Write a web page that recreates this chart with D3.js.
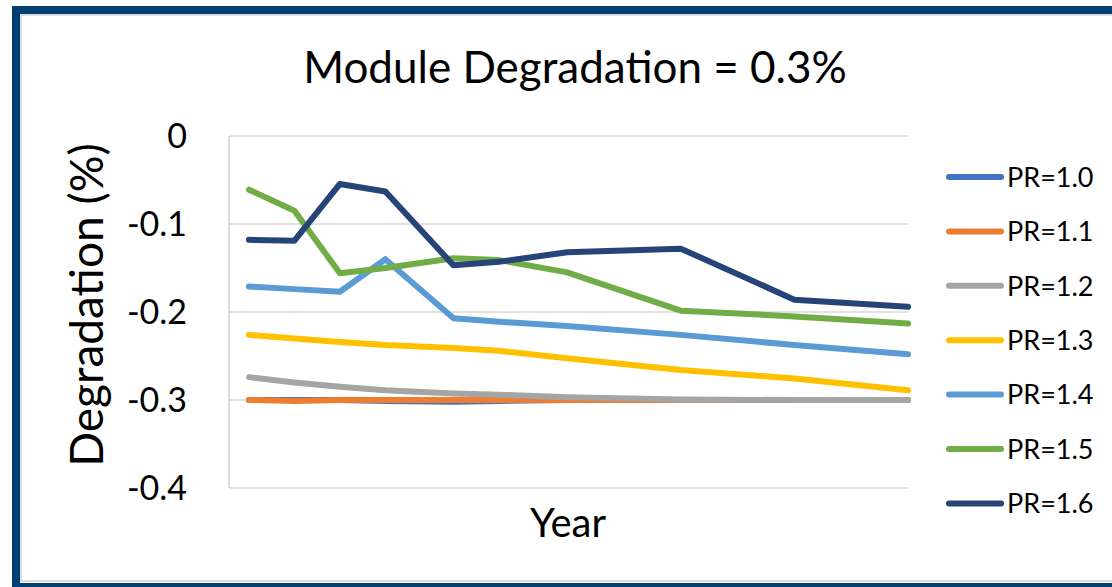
<!DOCTYPE html>
<meta charset="utf-8">
<html>
<head>
<script src="https://d3js.org/d3.v7.min.js"></script>
<style>
  body { margin: 0; background: #fff; }
  text { font-family: Lato, "Open Sans", sans-serif; fill: #000; }
</style>
</head>
<body>
<div class="chart"></div>
<script>
// data
var years = [1, 3, 5, 7, 10, 12, 15, 20, 25, 30];
var seriesNames = ["PR=1.0", "PR=1.1", "PR=1.2", "PR=1.3", "PR=1.4", "PR=1.5", "PR=1.6"];
var pr10 = [-0.300, -0.300, -0.300, -0.301, -0.302, -0.301, -0.300, -0.300, -0.300, -0.300];
var pr11 = [-0.300, -0.301, -0.300, -0.300, -0.300, -0.300, -0.300, -0.300, -0.300, -0.300];
var pr12 = [-0.274, -0.280, -0.285, -0.289, -0.2925, -0.294, -0.297, -0.2995, -0.300, -0.300];
var pr13 = [-0.226, -0.230, -0.234, -0.2375, -0.241, -0.244, -0.2525, -0.266, -0.2755, -0.289];
var pr14 = [-0.171, -0.174, -0.177, -0.140, -0.207, -0.211, -0.216, -0.226, -0.2375, -0.248];
var pr15 = [-0.061, -0.085, -0.156, -0.150, -0.139, -0.141, -0.155, -0.1985, -0.205, -0.213];
var pr16 = [-0.118, -0.119, -0.0545, -0.063, -0.147, -0.143, -0.132, -0.128, -0.186, -0.194];
var allSeries = [pr10, pr11, pr12, pr13, pr14, pr15, pr16];
var colors = ["#4472C4", "#ED7D31", "#A5A5A5", "#FFC000", "#5B9BD5", "#70AD47", "#264478"];
var yTicks = [0, -0.1, -0.2, -0.3, -0.4];
var yTickLabels = ["0", "-0.1", "-0.2", "-0.3", "-0.4"];

var width = 1112, height = 587;
var plotLeft = 229, plotRight = 908, plotTop = 136, plotBottom = 488;

var svg = d3.select(".chart").append("svg")
    .attr("width", width)
    .attr("height", height);

// frame
svg.append("rect")
    .attr("x", 21).attr("y", 15)
    .attr("width", 1100).attr("height", 566)
    .style("fill", "none")
    .style("stroke", "#d0d4d8")
    .style("stroke-width", 1.5);
svg.append("rect")
    .attr("x", 16).attr("y", 10)
    .attr("width", 1110).attr("height", 577)
    .style("fill", "none")
    .style("stroke", "#003f72")
    .style("stroke-width", 8);

var x = d3.scaleLinear().domain([1, 30]).range([249, plotRight]);
var y = d3.scaleLinear().domain([-0.4, 0]).range([plotBottom, plotTop]);

// gridlines
svg.selectAll(".grid")
    .data(yTicks).enter()
    .append("line")
    .attr("x1", plotLeft).attr("x2", plotRight)
    .attr("y1", function(d){ return y(d); })
    .attr("y2", function(d){ return y(d); })
    .style("stroke", "#d9d9d9")
    .style("stroke-width", 1.5);

// y axis line
svg.append("line")
    .attr("x1", plotLeft).attr("x2", plotLeft)
    .attr("y1", plotTop).attr("y2", plotBottom)
    .style("stroke", "#d0d0d0")
    .style("stroke-width", 1.5);

svg.selectAll(".ylabel")
    .data(yTicks).enter()
    .append("text")
    .attr("x", 187)
    .attr("y", function(d){ return y(d); })
    .attr("dy", "0.35em")
    .style("text-anchor", "end")
    .style("font-size", "34px")
    .text(function(d, i){ return yTickLabels[i]; });

// lines
var line = d3.line()
    .x(function(d, i){ return x(years[i]); })
    .y(function(d){ return y(d); });

svg.selectAll(".series")
    .data(allSeries).enter()
    .append("path")
    .attr("d", line)
    .style("fill", "none")
    .style("stroke", function(d, i){ return colors[i]; })
    .style("stroke-width", 6)
    .style("stroke-linejoin", "round")
    .style("stroke-linecap", "round");

// title and axis titles
svg.append("text")
    .attr("x", 575).attr("y", 83)
    .style("text-anchor", "middle")
    .style("font-size", "44px")
    .text("Module Degradation = 0.3%");

svg.append("text")
    .attr("x", 568).attr("y", 537)
    .style("text-anchor", "middle")
    .style("font-size", "40px")
    .text("Year");

svg.append("text")
    .attr("transform", "translate(103,305) rotate(-90)")
    .style("text-anchor", "middle")
    .style("font-size", "46px")
    .text("Degradation (%)");

// legend
var legend = svg.selectAll(".legend")
    .data(seriesNames).enter()
    .append("g")
    .attr("transform", function(d, i){ return "translate(0," + (177 + i * 54.4) + ")"; });

legend.append("line")
    .attr("x1", 949).attr("x2", 1001)
    .style("stroke", function(d, i){ return colors[i]; })
    .style("stroke-width", 6)
    .style("stroke-linecap", "round");

legend.append("text")
    .attr("x", 1007)
    .attr("dy", "0.36em")
    .style("font-size", "27px")
    .text(function(d){ return d; });
</script>
</body>
</html>
